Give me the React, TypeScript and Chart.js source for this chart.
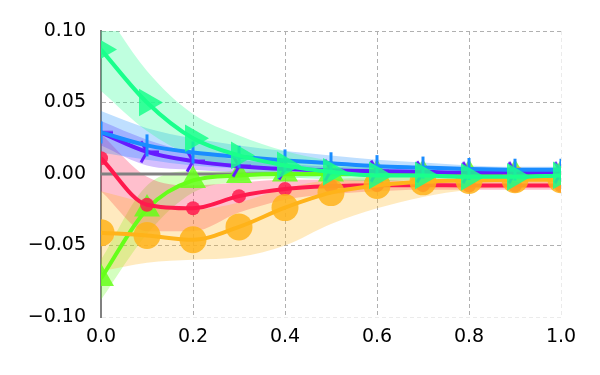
import React, { useEffect, useRef } from "react";
import { Chart, registerables } from "chart.js";
Chart.register(...registerables);

const xValues = [0, 0.1, 0.2, 0.3, 0.4, 0.5, 0.6, 0.7, 0.8, 0.9, 1.0];

const tealMean = [0.087, 0.05, 0.025, 0.013, 0.006, 0.0015, -0.001, -0.001, -0.002, -0.002, -0.001];
const tealUpper = [0.118, 0.072, 0.042, 0.027, 0.016, 0.009, 0.004, 0.002, 0.001, 0.001, 0.001];
const tealLower = [0.058, 0.03, 0.012, 0.003, -0.002, -0.004, -0.005, -0.004, -0.004, -0.004, -0.003];

const blueMean = [0.029, 0.02, 0.015, 0.012, 0.0095, 0.0075, 0.0055, 0.0045, 0.0035, 0.003, 0.003];
const blueUpper = [0.044, 0.032, 0.025, 0.02, 0.016, 0.013, 0.01, 0.008, 0.006, 0.005, 0.005];
const blueLower = [0.015, 0.01, 0.006, 0.004, 0.003, 0.002, 0.001, 0.001, 0.001, 0.001, 0.001];

const purpleMean = [0.029, 0.0155, 0.009, 0.0055, 0.0035, 0.0025, 0.002, 0.0015, 0.001, 0.001, 0.001];
const purpleUpper = [0.037, 0.024, 0.015, 0.01, 0.007, 0.005, 0.004, 0.003, 0.002, 0.002, 0.002];
const purpleLower = [0.02, 0.006, 0.003, 0.001, 0.0, 0.0, 0.0, 0.0, 0.0, 0.0, 0.0];

const redMean = [0.011, -0.0215, -0.024, -0.0155, -0.0105, -0.0085, -0.0078, -0.0078, -0.008, -0.008, -0.008];
const redUpper = [0.028, -0.002, -0.008, -0.006, -0.004, -0.004, -0.004, -0.005, -0.005, -0.005, -0.005];
const redLower = [-0.012, -0.04, -0.04, -0.027, -0.018, -0.014, -0.012, -0.011, -0.011, -0.011, -0.011];

const greenMean = [-0.073, -0.0245, -0.0045, -0.001, 0, 0, 0, 0, 0, 0, 0];
const greenUpper = [-0.06, -0.008, 0.002, 0.002, 0.002, 0.001, 0.001, 0.001, 0.001, 0.001, 0.001];
const greenLower = [-0.088, -0.042, -0.013, -0.005, -0.003, -0.002, -0.002, -0.002, -0.002, -0.002, -0.002];

const orangeMean = [-0.041, -0.043, -0.046, -0.037, -0.0235, -0.013, -0.008, -0.0055, -0.0045, -0.004, -0.004];
const orangeUpper = [-0.012, -0.02, -0.025, -0.02, -0.01, -0.004, -0.002, -0.001, -0.001, -0.001, -0.001];
const orangeLower = [-0.068, -0.062, -0.06, -0.058, -0.05, -0.035, -0.024, -0.016, -0.011, -0.009, -0.008];

function makeTri(color: string) {
  const c = document.createElement("canvas");
  c.width = 30;
  c.height = 30;
  const g = c.getContext("2d")!;
  g.strokeStyle = color;
  g.lineWidth = 3;
  g.lineCap = "butt";
  const r = 12;
  g.beginPath();
  for (const a of [0, 120, 240]) {
    const rad = (a * Math.PI) / 180;
    g.moveTo(15, 15);
    g.lineTo(15 + r * Math.cos(rad), 15 - r * Math.sin(rad));
  }
  g.stroke();
  return c;
}

const pts = (ys: number[]) => ys.map((y, i) => ({ x: xValues[i], y }));

export default function App() {
  const ref = useRef<HTMLCanvasElement>(null);
  useEffect(() => {
    const series = [
      { mean: tealMean, up: tealUpper, lo: tealLower, color: "26,255,140", order: 1, style: "triangle", rot: 90, r: 16 },
      { mean: blueMean, up: blueUpper, lo: blueLower, color: "26,140,255", order: 2, style: "line", rot: 90, r: 11 },
      { mean: purpleMean, up: purpleUpper, lo: purpleLower, color: "102,26,255", order: 3, style: "tri", rot: 0, r: 12 },
      { mean: orangeMean, up: orangeUpper, lo: orangeLower, color: "255,179,26", order: 4, style: "circle", rot: 0, r: 13.5 },
      { mean: redMean, up: redUpper, lo: redLower, color: "255,26,77", order: 5, style: "circle", rot: 0, r: 7 },
      { mean: greenMean, up: greenUpper, lo: greenLower, color: "102,255,26", order: 6, style: "triangle", rot: 0, r: 15 },
    ];
    const datasets: any[] = [];
    series.forEach((s, k) => {
      datasets.push({
        data: pts(s.up),
        borderWidth: 0,
        pointRadius: 0,
        fill: false,
        cubicInterpolationMode: "monotone",
        order: 20 + k,
        borderColor: "transparent",
      });
      datasets.push({
        data: pts(s.lo),
        borderWidth: 0,
        pointRadius: 0,
        fill: "-1",
        backgroundColor: `rgba(${s.color},0.28)`,
        cubicInterpolationMode: "monotone",
        order: 20 + k,
        borderColor: "transparent",
      });
    });
    series.forEach((s) => {
      const solid = `rgb(${s.color})`;
      const semi = `rgba(${s.color},0.85)`;
      const isLine = s.style === "line";
      datasets.push({
        data: pts(s.mean),
        borderColor: solid,
        borderWidth: 4,
        cubicInterpolationMode: "monotone",
        fill: false,
        order: s.order,
        pointStyle: s.style === "tri" ? makeTri(solid) : s.style,
        rotation: s.rot,
        pointRadius: s.r,
        pointBackgroundColor: semi,
        pointBorderColor: isLine ? solid : semi,
        pointBorderWidth: isLine ? 3 : 0,
      });
    });

    const zeroLine = {
      id: "zeroLine",
      beforeDatasetsDraw(chart: any) {
        const { ctx, chartArea } = chart;
        const y = chart.scales.y.getPixelForValue(0);
        ctx.save();
        ctx.strokeStyle = "#808080";
        ctx.lineWidth = 3;
        ctx.beginPath();
        ctx.moveTo(chartArea.left, y);
        ctx.lineTo(chartArea.right, y);
        ctx.stroke();
        ctx.restore();
      },
    };

    const font = { family: "DejaVu Sans", size: 19 };
    const chart = new Chart(ref.current!, {
      type: "line",
      data: { datasets },
      plugins: [zeroLine],
      options: {
        responsive: false,
        animation: false,
        layout: { padding: { top: 31, right: 39, left: 0, bottom: 0 } },
        plugins: {
          legend: { display: false },
          tooltip: { enabled: false },
          filler: { drawTime: "beforeDatasetsDraw" } as any,
        },
        scales: {
          x: {
            type: "linear",
            min: 0,
            max: 1,
            afterFit: (s: any) => {
              s.height = 58;
            },
            ticks: {
              stepSize: 0.2,
              padding: 9,
              color: "#000",
              font,
              callback: (v: any) => Number(v).toFixed(1),
            },
            grid: {
              drawTicks: false,
              lineWidth: 1,
              color: (c: any) =>
                c.tick && Math.abs(c.tick.value - 1) < 1e-9
                  ? "rgba(176,176,176,0.25)"
                  : c.tick && Math.abs(c.tick.value) < 1e-9
                  ? "rgba(0,0,0,0)"
                  : "#b0b0b0",
            },
            border: { display: false, dash: [4, 3] },
          },
          y: {
            min: -0.1,
            max: 0.1,
            afterFit: (s: any) => {
              s.width = 101;
            },
            ticks: {
              stepSize: 0.05,
              padding: 15,
              color: "#000",
              font,
              callback: (v: any) => {
                const n = Number(v);
                const t = Math.abs(n).toFixed(2);
                return n < -1e-9 ? "\u2212" + t : t;
              },
            },
            grid: {
              drawTicks: false,
              lineWidth: 1,
              color: (c: any) =>
                c.tick && Math.abs(c.tick.value + 0.1) < 1e-9
                  ? "rgba(176,176,176,0.25)"
                  : c.tick && Math.abs(c.tick.value) < 1e-9
                  ? "rgba(0,0,0,0)"
                  : "#b0b0b0",
            },
            border: { display: true, color: "#808080", width: 2, dash: [4, 3] },
          },
        },
      },
    });
    return () => chart.destroy();
  }, []);
  return (
    <div style={{ position: "fixed", left: 0, top: 0, width: 600, height: 375, background: "#fff" }}>
      <canvas ref={ref} width={600} height={375} />
    </div>
  );
}
